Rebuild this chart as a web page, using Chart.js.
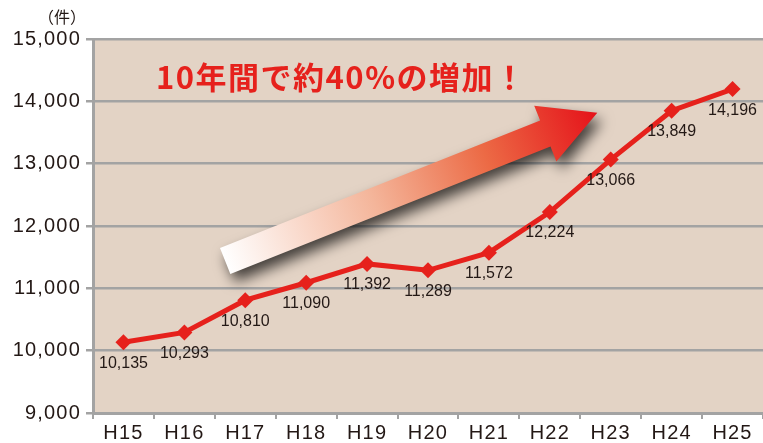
<!DOCTYPE html>
<html>
<head>
<meta charset="utf-8">
<script src="https://cdn.jsdelivr.net/npm/chart.js@4"></script>
<style>
  html, body { margin: 0; padding: 0; background: #ffffff; overflow: hidden; }
  canvas { display: block; }
</style>
</head>
<body>
<canvas id="c" width="763" height="443"></canvas>
<script>
// 年度ラベル・件数
const years = ["H15", "H16", "H17", "H18", "H19", "H20", "H21", "H22", "H23", "H24", "H25"];
const counts = [10135, 10293, 10810, 11090, 11392, 11289, 11572, 12224, 13066, 13849, 14196];
const yTicks = [9000, 10000, 11000, 12000, 13000, 14000, 15000];
const headline = "10年間で約40%の増加！";
const unitLabel = "（件）";

const RED = "#e6211c";
const GRID = "#a3a3a3";
const BG = "#e3d3c5";
const TEXT = "#231815";

// 背景 + 矢印 + 見出し + データラベル
const decor = {
    id: "decor",
    beforeDraw(chart) {
        const { ctx, chartArea: a } = chart;
        ctx.save();
        ctx.fillStyle = BG;
        ctx.fillRect(a.left, a.top, a.right - a.left, a.bottom - a.top);
        ctx.restore();
        // 目盛り文字の字間を少し広げる
        ctx.letterSpacing = "1.2px";
    },
    beforeDatasetsDraw(chart) {
        const { ctx } = chart;
        const xs = chart.scales.x, ys = chart.scales.y;

        // 矢印（スケール上の位置から）
        const tx = xs.getPixelForValue(1.67), ty = ys.getPixelForValue(11440);
        const px = xs.getPixelForValue(7.78), py = ys.getPixelForValue(13815);
        const len = Math.hypot(px - tx, py - ty);
        const ang = Math.atan2(py - ty, px - tx);
        const sw = 14, hw = 30, hl = 56;

        ctx.save();
        ctx.letterSpacing = "0px";
        ctx.translate(tx, ty);
        ctx.rotate(ang);
        const g = ctx.createLinearGradient(0, 0, len, 0);
        g.addColorStop(0, "#ffffff");
        g.addColorStop(0.4, "#f4b59a");
        g.addColorStop(0.7, "#ec6a45");
        g.addColorStop(1, "#e5121a");
        ctx.beginPath();
        ctx.moveTo(0, -sw);
        ctx.lineTo(len - hl, -sw);
        ctx.lineTo(len - hl, -hw);
        ctx.lineTo(len, 0);
        ctx.lineTo(len - hl, hw);
        ctx.lineTo(len - hl, sw);
        ctx.lineTo(0, sw);
        ctx.closePath();
        ctx.shadowColor = "rgba(0,0,0,0.7)";
        ctx.shadowBlur = 14;
        ctx.shadowOffsetX = 5;
        ctx.shadowOffsetY = 8;
        ctx.fillStyle = g;
        ctx.fill();
        ctx.restore();

        // 見出し
        ctx.save();
        ctx.fillStyle = RED;
        ctx.font = "bold 31px 'Noto Sans CJK JP'";
        ctx.textBaseline = "middle";
        ctx.textAlign = "left";
        ctx.letterSpacing = "1.5px";
        ctx.fillText(headline, 156, 77);
        ctx.restore();

        // 単位
        ctx.save();
        ctx.letterSpacing = "0px";
        ctx.fillStyle = TEXT;
        ctx.font = "16px 'Noto Sans CJK JP'";
        ctx.textBaseline = "middle";
        ctx.textAlign = "center";
        ctx.fillText(unitLabel, 62, 17);
        ctx.restore();
    },
    afterDatasetsDraw(chart) {
        const { ctx } = chart;
        const pts = chart.getDatasetMeta(0).data;
        ctx.save();
        ctx.letterSpacing = "0px";
        ctx.fillStyle = TEXT;
        ctx.font = "16px 'Liberation Sans', Arial, sans-serif";
        ctx.textAlign = "center";
        ctx.textBaseline = "top";
        pts.forEach((p, i) => {
            ctx.fillText(counts[i].toLocaleString("en-US"), p.x, p.y + 13);
        });
        ctx.restore();
    }
};

new Chart(document.getElementById("c"), {
    type: "line",
    data: {
        labels: years,
        datasets: [{
            data: counts,
            borderColor: RED,
            backgroundColor: RED,
            borderWidth: 5,
            pointStyle: "rectRot",
            pointRadius: 8,
            pointHoverRadius: 8,
            pointBorderWidth: 0,
            tension: 0
        }]
    },
    options: {
        responsive: false,
        animation: false,
        layout: {
            autoPadding: false,
            padding: { top: 39, right: 0, left: 0, bottom: 0 }
        },
        plugins: {
            legend: { display: false },
            tooltip: { enabled: false }
        },
        scales: {
            x: {
                offset: true,
                grid: {
                    offset: true,
                    drawOnChartArea: false,
                    drawTicks: true,
                    tickLength: 6,
                    color: GRID,
                    lineWidth: 2
                },
                border: { color: GRID, width: 3 },
                ticks: {
                    color: TEXT,
                    font: { family: "'Liberation Sans', Arial", size: 20 },
                    padding: 2,
                    maxRotation: 0
                },
                afterFit: s => {
                    s.height = 30;
                    s.paddingLeft = 0;
                    s.paddingRight = 0;
                }
            },
            y: {
                min: 9000,
                max: 15000,
                afterBuildTicks: s => { s.ticks = yTicks.map(v => ({ value: v })); },
                grid: {
                    color: GRID,
                    lineWidth: 2.5,
                    tickLength: 7
                },
                border: { color: GRID, width: 3 },
                ticks: {
                    color: TEXT,
                    font: { family: "'Liberation Sans', Arial", size: 20 },
                    padding: 5,
                    callback: v => v.toLocaleString("en-US")
                },
                afterFit: s => { s.width = 93; }
            }
        }
    },
    plugins: [decor]
});
</script>
</body>
</html>
